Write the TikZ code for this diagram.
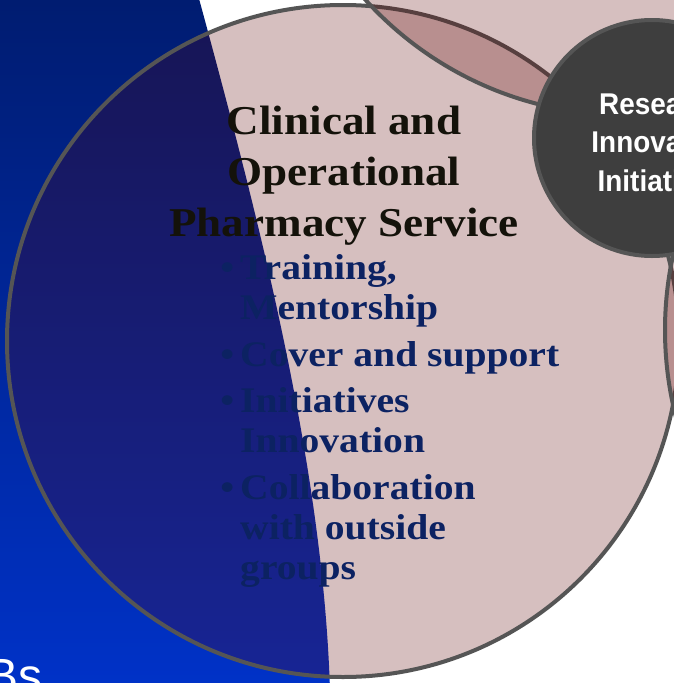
\documentclass[tikz,border=0pt]{standalone}
\usepackage{fontspec}
\setmainfont{Liberation Serif}
\newfontfamily\titlefont[FakeStretch=1.1]{Liberation Serif}
\newfontfamily\narrowfont[FakeStretch=0.93]{Liberation Sans}
\newfontfamily\slidefont{Liberation Sans}
\definecolor{vennred}{RGB}{95,0,0}
\definecolor{venngray}{RGB}{85,85,85}
\definecolor{darkdisc}{RGB}{62,62,62}
\definecolor{titleink}{RGB}{20,18,10}
\definecolor{listink}{RGB}{12,34,98}
\definecolor{slidetop}{RGB}{0,28,112}
\definecolor{slidebot}{RGB}{0,50,200}
\newcommand{\itemdot}{\llap{\textbullet\hspace{6pt}}}

\begin{document}
\begin{tikzpicture}[x=1pt, y=-1pt,
  venn/.style={fill=vennred, fill opacity=0.25, draw=venngray, line width=4pt},
  disc/.style={circle, fill=darkdisc, draw=venngray, line width=4pt, minimum size=236pt, inner sep=0pt},
  disctext/.style={text=white, align=center, inner sep=0pt, font=\narrowfont\bfseries\fontsize{30}{38.5}\selectfont},
  titletext/.style={text=titleink, align=center, inner sep=0pt, font=\titlefont\bfseries\fontsize{41}{51}\selectfont},
  listtext/.style={text=listink, align=left, inner sep=0pt, font=\titlefont\bfseries\fontsize{36}{40}\selectfont},
  slidetext/.style={text=white, inner sep=0pt, font=\slidefont\fontsize{48}{52}\selectfont}]
\useasboundingbox (0,0) rectangle (673,683);
\fill[white] (0,0) rectangle (673,683);
% slide background
\shade[top color=slidetop, bottom color=slidebot] (-5,-5) -- (198,-5) .. controls (262,230) and (323,470) .. (330,690) -- (-5,690) -- cycle;
\node[slidetext, anchor=base east] (slidelabel) at (43,692) {Bs};
% venn circles
\draw[venn] (343,341) circle[radius=336];
\draw[venn] (625,-235) circle[radius=350];
\draw[venn] (1015,330) circle[radius=350];
\node[disc] (research) at (652,138) {};
\node[disctext] (researchlabel) at ([shift={(10,4)}]research.center) {Research\\Innovation\\Initiatives};
% texts
\node[titletext, anchor=north] (title) at (344,106) {Clinical and\\Operational\\Pharmacy Service};
\node[listtext, anchor=north west] (duties) at (240,254) {\itemdot Training,\\Mentorship\\[7pt]
  \itemdot Cover and support\\[6pt]
  \itemdot Initiatives\\Innovation\\[7pt]
  \itemdot Collaboration\\with outside\\groups};
\end{tikzpicture}
\end{document}
